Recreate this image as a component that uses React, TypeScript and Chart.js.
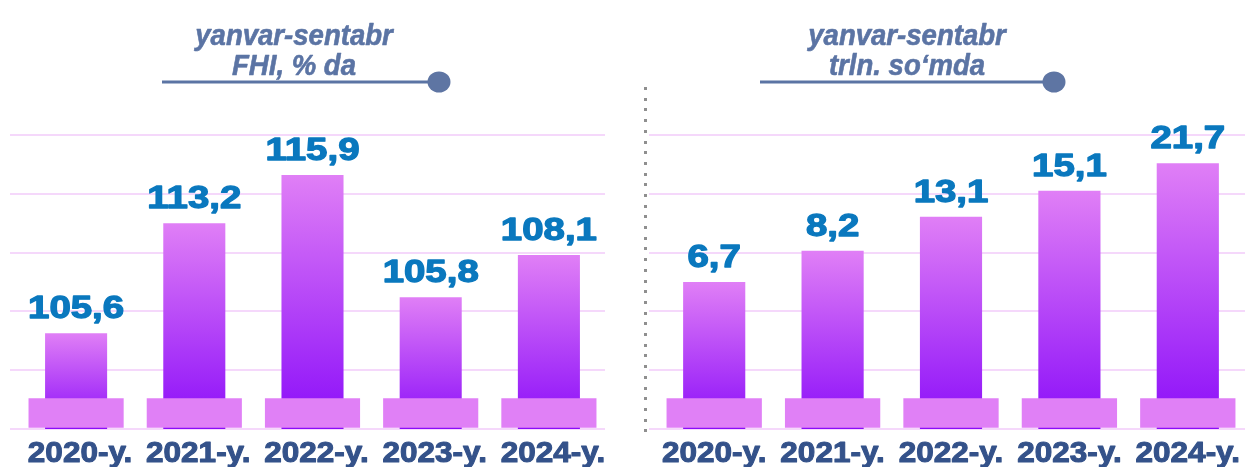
import React, { useEffect, useRef } from "react";
import { Chart, registerables } from "chart.js";

Chart.register(...registerables);

// ---------- data ----------
const years = ["2020-y.", "2021-y.", "2022-y.", "2023-y.", "2024-y."];
const fhiValues = [105.6, 113.2, 115.9, 105.8, 108.1];
const fhiBarLevels = [1.63, 3.5, 4.32, 2.24, 2.96]; // bar heights as drawn (grid units)
const volumeValues = [6.7, 8.2, 13.1, 15.1, 21.7];
const volumeBarLevels = [2.5, 3.03, 3.61, 4.05, 4.52]; // bar heights as drawn (grid units)
const baseBand = [0.02, 0.525];
const gridTicks = [0, 1, 2, 3, 4, 5];
const leftTitle = ["yanvar-sentabr", "FHI, % da"];
const rightTitle = ["yanvar-sentabr", "trln. so\u2018mda"];

const FONT = '"Liberation Sans", Arial, sans-serif';

function fmt(v: number) {
  return v.toFixed(1).replace(".", ",");
}

function stretchText(
  ctx: CanvasRenderingContext2D,
  text: string,
  x: number,
  y: number,
  sx: number,
  bold: number
) {
  ctx.save();
  ctx.translate(x, y);
  ctx.scale(sx, 1);
  ctx.fillText(text, 0, 0);
  if (bold > 0) {
    ctx.lineWidth = bold;
    ctx.lineJoin = "round";
    ctx.strokeStyle = ctx.fillStyle as string;
    ctx.strokeText(text, 0, 0);
  }
  ctx.restore();
}

type PanelCfg = {
  width: number;
  padding: { left: number; right: number; top: number; bottom: number };
  levels: number[];
  values: number[];
  title: string[];
  titleX: number;
  lineX0: number;
  lineX1: number;
  dotX: number;
  gridX0: number;
  gridX1: number;
  labelShift: number;
  dotted: boolean;
};

function Panel({ cfg, left }: { cfg: PanelCfg; left: number }) {
  const ref = useRef<HTMLCanvasElement | null>(null);

  useEffect(() => {
    if (!ref.current) return;
    const decor = {
      id: "decor",
      beforeDatasetsDraw(chart: any) {
        const ctx = chart.ctx as CanvasRenderingContext2D;
        const y = chart.scales.y;
        ctx.save();
        ctx.strokeStyle = "#F5D8FB";
        ctx.lineWidth = 2;
        gridTicks.forEach((t) => {
          const py = Math.round(y.getPixelForValue(t));
          ctx.beginPath();
          ctx.moveTo(cfg.gridX0, py);
          ctx.lineTo(cfg.gridX1, py);
          ctx.stroke();
        });
        if (cfg.dotted) {
          ctx.fillStyle = "#8f8f8f";
          for (let py = 88; py <= 432; py += 10.7) {
            ctx.fillRect(cfg.dotX - 1, Math.round(py) - 1, 3, 3);
          }
        }
        ctx.restore();
      },
      afterDatasetsDraw(chart: any) {
        const ctx = chart.ctx as CanvasRenderingContext2D;
        const meta = chart.getDatasetMeta(0);
        ctx.save();
        ctx.textAlign = "center";
        ctx.textBaseline = "alphabetic";
        // value labels
        ctx.fillStyle = "#0A78BE";
        ctx.font = `bold 32px ${FONT}`;
        meta.data.forEach((bar: any, i: number) => {
          stretchText(ctx, fmt(cfg.values[i]), bar.x, bar.y - 15, 1.2, 1.3);
        });
        // category labels
        ctx.fillStyle = "#34528A";
        ctx.font = `bold 30px ${FONT}`;
        meta.data.forEach((bar: any, i: number) => {
          stretchText(ctx, years[i], bar.x + cfg.labelShift, 462, 1.05, 1.1);
        });
        // title
        ctx.fillStyle = "#5B74A4";
        ctx.font = `italic bold 29px ${FONT}`;
        stretchText(ctx, cfg.title[0], cfg.titleX, 45, 0.95, 0.6);
        stretchText(ctx, cfg.title[1], cfg.titleX, 75, 0.95, 0.6);
        ctx.strokeStyle = "#5B74A4";
        ctx.lineWidth = 3;
        ctx.beginPath();
        ctx.moveTo(cfg.lineX0, 82);
        ctx.lineTo(cfg.lineX1, 82);
        ctx.stroke();
        ctx.fillStyle = "#5E75A3";
        ctx.beginPath();
        ctx.ellipse(cfg.lineX1 + 9, 82, 11.5, 10.5, 0, 0, Math.PI * 2);
        ctx.fill();
        ctx.restore();
      },
    };

    const chart = new Chart(ref.current, {
      type: "bar",
      data: {
        labels: years,
        datasets: [
          {
            data: cfg.levels,
            grouped: false,
            order: 1,
            barPercentage: 0.525,
            categoryPercentage: 1,
            borderWidth: 0,
            backgroundColor: (c: any) => {
              const chart = c.chart;
              if (!chart.chartArea || c.type !== "data") return "#B040FA";
              const ys = chart.scales.y;
              const top = ys.getPixelForValue(c.raw);
              const bottom = ys.getPixelForValue(0);
              const g = chart.ctx.createLinearGradient(0, top, 0, bottom);
              g.addColorStop(0, "#E07FF6");
              g.addColorStop(1, "#8A0CF9");
              return g;
            },
          },
          {
            data: cfg.levels.map(() => baseBand),
            grouped: false,
            order: 0,
            barPercentage: 0.805,
            categoryPercentage: 1,
            borderWidth: 0,
            backgroundColor: "#E080F6",
          },
        ],
      },
      options: {
        responsive: false,
        devicePixelRatio: 1,
        animation: false,
        layout: { padding: cfg.padding },
        plugins: { legend: { display: false }, tooltip: { enabled: false }, title: { display: false } },
        scales: {
          x: { display: false, offset: true },
          y: { display: false, min: 0, max: 5 },
        },
      },
      plugins: [decor],
    } as any);
    return () => chart.destroy();
  }, [cfg]);

  return (
    <canvas
      ref={ref}
      width={cfg.width}
      height={467}
      style={{ position: "absolute", left, top: 0, width: cfg.width, height: 467 }}
    />
  );
}

const leftCfg: PanelCfg = {
  width: 630,
  padding: { left: 17, right: 22, top: 135, bottom: 38 },
  levels: fhiBarLevels,
  values: fhiValues,
  title: leftTitle,
  titleX: 294,
  lineX0: 162,
  lineX1: 430,
  dotX: 0,
  gridX0: 10,
  gridX1: 605,
  labelShift: 4,
  dotted: false,
};

const rightCfg: PanelCfg = {
  width: 626,
  padding: { left: 25, right: 9, top: 135, bottom: 38 },
  levels: volumeBarLevels,
  values: volumeValues,
  title: rightTitle,
  titleX: 277,
  lineX0: 130,
  lineX1: 415,
  dotX: 15,
  gridX0: 19,
  gridX1: 615,
  labelShift: 0,
  dotted: true,
};

export default function App() {
  return (
    <div style={{ position: "fixed", left: 0, top: 0, width: 1256, height: 467, background: "#fff" }}>
      <Panel cfg={leftCfg} left={0} />
      <Panel cfg={rightCfg} left={630} />
    </div>
  );
}
